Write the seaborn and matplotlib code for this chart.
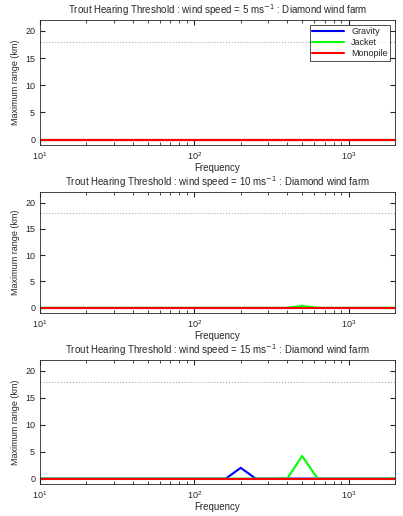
import matplotlib
matplotlib.use("Agg")
import matplotlib.pyplot as plt
import seaborn as sns
import pandas as pd

sns.set_style("ticks")
plt.rcParams['font.family'] = ['Liberation Sans', 'DejaVu Sans']

freqs = [10,12.5,16,20,25,31.5,40,50,63,80,100,125,160,200,250,315,400,500,630,800,1000,1250,1600,2000]
n = len(freqs)
zeros = [0.0]*n
grav15 = [0.0]*n; grav15[freqs.index(200)] = 2.0
jack10 = [0.0]*n; jack10[freqs.index(500)] = 0.35
jack15 = [0.0]*n; jack15[freqs.index(500)] = 4.2
speeds = [5, 10, 15]
series = {5: (zeros, zeros, zeros), 10: (zeros, jack10, zeros), 15: (grav15, jack15, zeros)}
names = ["Gravity", "Jacket", "Monopile"]
colors = ["#0000ff", "#00ff00", "#ff0000"]
threshold = 18

fig = plt.figure(figsize=(4.03, 5.16), dpi=100)
W, H = 403, 516
boxes = [(20, 145), (192, 313), (360, 484)]
for (top, bot), sp in zip(boxes, speeds):
    ax = fig.add_axes([40/W, 1-bot/H, 355/W, (bot-top)/H])
    df = pd.DataFrame({"f": freqs * 3,
                       "r": sum((list(s) for s in series[sp]), []),
                       "s": sum(([nm]*n for nm in names), [])})
    sns.lineplot(data=df, x="f", y="r", hue="s", palette=colors, ax=ax, lw=1.5,
                 legend=(sp == 5))
    ax.axhline(threshold, color="#aaaaaa", ls=":", lw=0.8)
    ax.set_xscale("log")
    ax.set_xlim(10, 2000)
    ax.set_ylim(-1, 22)
    ax.set_yticks([0, 5, 10, 15, 20])
    ax.set_xlabel("Frequency", fontsize=7, labelpad=1)
    ax.set_ylabel("Maximum range (km)", fontsize=6.5)
    ax.tick_params(labelsize=6.5, direction="in", which="both", top=True, right=True)
    for s in ax.spines.values():
        s.set_linewidth(0.6)
    ax.set_title(f"Trout Hearing Threshold : wind speed = {sp} ms$^{{-1}}$ : Diamond wind farm",
                 fontsize=7, pad=4)
    if sp == 5:
        leg = ax.legend(loc="upper right", fontsize=6.5, frameon=True, fancybox=False,
                        edgecolor="black", borderpad=0.3, labelspacing=0.2, handlelength=3.5)
        leg.get_frame().set_linewidth(0.6)

fig.savefig("out.png", dpi=100)
